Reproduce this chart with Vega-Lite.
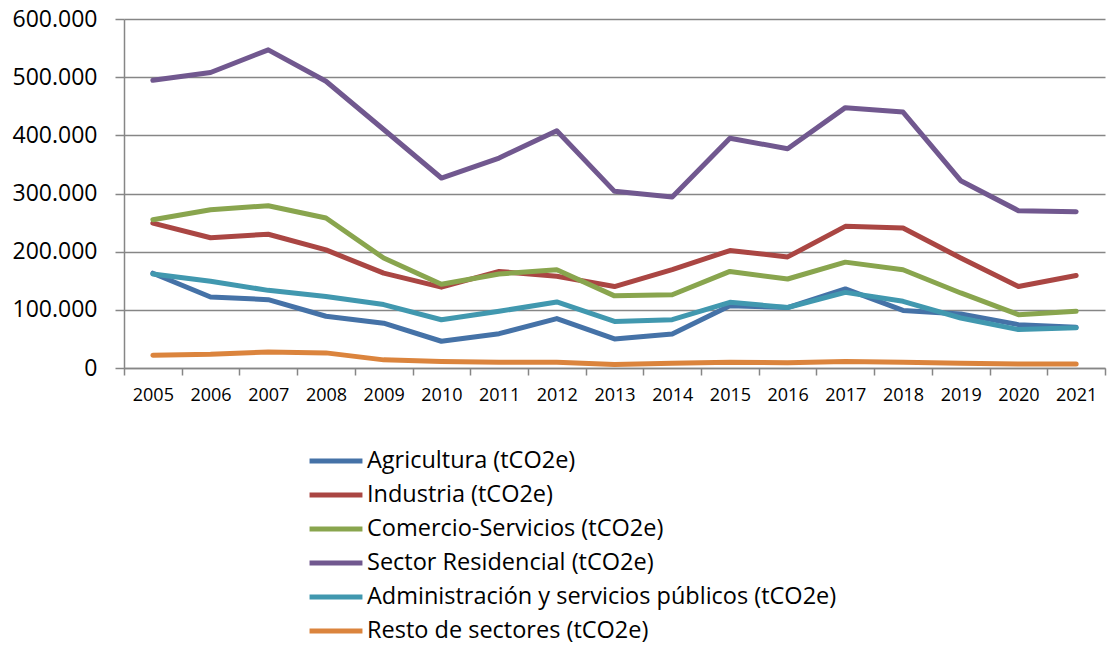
{
 "$schema": "https://vega.github.io/schema/vega-lite/v6.json",
 "width": 981, "height": 349,
 "autosize": {"type": "none"},
 "padding": {"left": 124, "top": 19, "right": 5, "bottom": 277},
 "background": "white",
 "config": {
   "locale": {"number": {"decimal": ",", "thousands": ".", "grouping": [3], "currency": ["", " €"]}},
   "font": "Open Sans",
   "view": {"stroke": null}
 },
 "datasets": {
  "raw": [
   {"year":"2005","Agricultura (tCO2e)":163000,"Industria (tCO2e)":249000,"Comercio-Servicios (tCO2e)":255000,"Sector Residencial (tCO2e)":494600,"Administración y servicios públicos (tCO2e)":161600,"Resto de sectores (tCO2e)":22000},
   {"year":"2006","Agricultura (tCO2e)":122000,"Industria (tCO2e)":224000,"Comercio-Servicios (tCO2e)":272000,"Sector Residencial (tCO2e)":508000,"Administración y servicios públicos (tCO2e)":149000,"Resto de sectores (tCO2e)":23500},
   {"year":"2007","Agricultura (tCO2e)":117500,"Industria (tCO2e)":230000,"Comercio-Servicios (tCO2e)":279000,"Sector Residencial (tCO2e)":547000,"Administración y servicios públicos (tCO2e)":133500,"Resto de sectores (tCO2e)":27500},
   {"year":"2008","Agricultura (tCO2e)":89000,"Industria (tCO2e)":203000,"Comercio-Servicios (tCO2e)":258000,"Sector Residencial (tCO2e)":493000,"Administración y servicios públicos (tCO2e)":123000,"Resto de sectores (tCO2e)":26000},
   {"year":"2009","Agricultura (tCO2e)":77000,"Industria (tCO2e)":163000,"Comercio-Servicios (tCO2e)":189000,"Sector Residencial (tCO2e)":410000,"Administración y servicios públicos (tCO2e)":109000,"Resto de sectores (tCO2e)":14000},
   {"year":"2010","Agricultura (tCO2e)":46000,"Industria (tCO2e)":139000,"Comercio-Servicios (tCO2e)":144000,"Sector Residencial (tCO2e)":326600,"Administración y servicios públicos (tCO2e)":83000,"Resto de sectores (tCO2e)":11000},
   {"year":"2011","Agricultura (tCO2e)":59000,"Industria (tCO2e)":166000,"Comercio-Servicios (tCO2e)":161600,"Sector Residencial (tCO2e)":361000,"Administración y servicios públicos (tCO2e)":97400,"Resto de sectores (tCO2e)":10000},
   {"year":"2012","Agricultura (tCO2e)":85000,"Industria (tCO2e)":157600,"Comercio-Servicios (tCO2e)":169000,"Sector Residencial (tCO2e)":408000,"Administración y servicios públicos (tCO2e)":113500,"Resto de sectores (tCO2e)":10000},
   {"year":"2013","Agricultura (tCO2e)":50000,"Industria (tCO2e)":140000,"Comercio-Servicios (tCO2e)":124000,"Sector Residencial (tCO2e)":303700,"Administración y servicios públicos (tCO2e)":80000,"Resto de sectores (tCO2e)":6000},
   {"year":"2014","Agricultura (tCO2e)":58500,"Industria (tCO2e)":169000,"Comercio-Servicios (tCO2e)":126000,"Sector Residencial (tCO2e)":294000,"Administración y servicios públicos (tCO2e)":83000,"Resto de sectores (tCO2e)":8000},
   {"year":"2015","Agricultura (tCO2e)":107000,"Industria (tCO2e)":202000,"Comercio-Servicios (tCO2e)":166000,"Sector Residencial (tCO2e)":395000,"Administración y servicios públicos (tCO2e)":113000,"Resto de sectores (tCO2e)":10000},
   {"year":"2016","Agricultura (tCO2e)":104000,"Industria (tCO2e)":191000,"Comercio-Servicios (tCO2e)":153000,"Sector Residencial (tCO2e)":377000,"Administración y servicios públicos (tCO2e)":104000,"Resto de sectores (tCO2e)":9000},
   {"year":"2017","Agricultura (tCO2e)":136000,"Industria (tCO2e)":243500,"Comercio-Servicios (tCO2e)":182000,"Sector Residencial (tCO2e)":447600,"Administración y servicios públicos (tCO2e)":130000,"Resto de sectores (tCO2e)":11000},
   {"year":"2018","Agricultura (tCO2e)":99000,"Industria (tCO2e)":240700,"Comercio-Servicios (tCO2e)":169000,"Sector Residencial (tCO2e)":440000,"Administración y servicios públicos (tCO2e)":114600,"Resto de sectores (tCO2e)":10000},
   {"year":"2019","Agricultura (tCO2e)":93000,"Industria (tCO2e)":189000,"Comercio-Servicios (tCO2e)":129000,"Sector Residencial (tCO2e)":322000,"Administración y servicios públicos (tCO2e)":86000,"Resto de sectores (tCO2e)":8000},
   {"year":"2020","Agricultura (tCO2e)":74500,"Industria (tCO2e)":140000,"Comercio-Servicios (tCO2e)":91700,"Sector Residencial (tCO2e)":270500,"Administración y servicios públicos (tCO2e)":66000,"Resto de sectores (tCO2e)":7000},
   {"year":"2021","Agricultura (tCO2e)":70000,"Industria (tCO2e)":159000,"Comercio-Servicios (tCO2e)":97400,"Sector Residencial (tCO2e)":268800,"Administración y servicios públicos (tCO2e)":69000,"Resto de sectores (tCO2e)":7000}
  ]
 },
 "data": {"name": "raw"},
 "transform": [
  {"fold": ["Agricultura (tCO2e)","Industria (tCO2e)","Comercio-Servicios (tCO2e)","Sector Residencial (tCO2e)","Administración y servicios públicos (tCO2e)","Resto de sectores (tCO2e)"], "as": ["sector","value"]}
 ],
 "mark": {"type": "line", "strokeWidth": 5, "strokeCap": "round", "strokeJoin": "round"},
 "encoding": {
  "x": {"field": "year", "type": "ordinal",
   "scale": {"type": "band", "paddingInner": 0, "paddingOuter": 0},
   "axis": {"title": null, "labelAngle": 0, "labelFontSize": 18, "labelColor": "black", "tickBand": "extent", "tickSize": 7, "labelPadding": 11, "domainColor": "#868686", "tickColor": "#868686", "grid": false, "domainWidth": 1.5, "tickWidth": 1.5}},
  "y": {"field": "value", "type": "quantitative",
   "scale": {"domain": [0, 600000], "nice": false},
   "axis": {"title": null, "values": [0,100000,200000,300000,400000,500000,600000], "format": ",d", "labelFontSize": 23, "labelColor": "black", "tickSize": 9, "labelPadding": 18, "tickColor": "#868686", "domainColor": "#868686", "gridColor": "#868686", "gridWidth": 1.5, "domainWidth": 1.5, "tickWidth": 1.5, "gridOpacity": 1}},
  "color": {"field": "sector", "type": "nominal",
   "scale": {"domain": ["Agricultura (tCO2e)","Industria (tCO2e)","Comercio-Servicios (tCO2e)","Sector Residencial (tCO2e)","Administración y servicios públicos (tCO2e)","Resto de sectores (tCO2e)"],
             "range": ["#4572A7","#AA4643","#89A54E","#71588F","#4198AF","#DB843D"]},
   "legend": {"orient": "none", "legendX": 196, "legendY": 426, "title": null, "symbolType": "M-2,0H2", "symbolStrokeWidth": 5, "symbolSize": 700, "labelFontSize": 23.5, "labelColor": "black", "rowPadding": 6, "labelOffset": 15, "padding": 0, "labelLimit": 0}}
 }
}
